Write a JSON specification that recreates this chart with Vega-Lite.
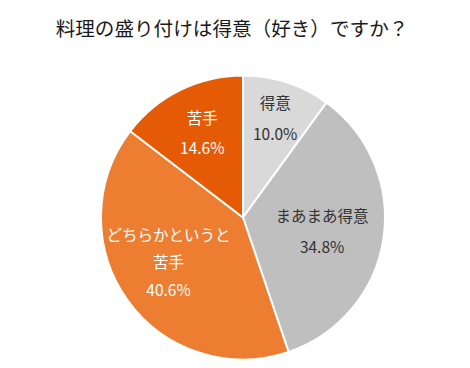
{
  "$schema": "https://vega.github.io/schema/vega-lite/v6.json",
  "width": 470,
  "height": 368,
  "autosize": {"type": "fit", "contains": "padding"},
  "padding": {"top": 20, "left": 16, "right": 0, "bottom": 0},
  "background": "white",
  "title": {
    "text": "料理の盛り付けは得意（好き）ですか？",
    "font": "Noto Sans CJK JP",
    "fontSize": 19.6,
    "fontWeight": "normal",
    "color": "#1a1a1a",
    "anchor": "middle",
    "offset": 26,
    "dx": -11
  },
  "config": {"view": {"stroke": null}},
  "data": {
    "values": [
      {"cat": "得意", "value": 10.0, "ord": 1, "label": "得意\n10.0%"},
      {"cat": "まあまあ得意", "value": 34.8, "ord": 2, "label": "まあまあ得意\n34.8%"},
      {"cat": "どちらかというと苦手", "value": 40.6, "ord": 3, "label": "どちらかというと\n苦手\n40.6%"},
      {"cat": "苦手", "value": 14.6, "ord": 4, "label": "苦手\n14.6%"}
    ]
  },
  "encoding": {
    "theta": {"field": "value", "type": "quantitative", "stack": true},
    "order": {"field": "ord", "type": "quantitative"}
  },
  "layer": [
    {
      "mark": {"type": "arc", "outerRadius": 142, "stroke": "white", "strokeWidth": 2},
      "encoding": {
        "color": {
          "field": "cat",
          "type": "nominal",
          "scale": {
            "domain": ["得意", "まあまあ得意", "どちらかというと苦手", "苦手"],
            "range": ["#D9D9D9", "#BFBFBF", "#ED7D31", "#E55A05"]
          },
          "legend": null
        }
      }
    },
    {
      "mark": {"type": "text", "radius": 104, "dy": -15, "font": "Noto Sans CJK JP", "fontSize": 15.5, "lineHeight": 31, "lineBreak": "\n", "fill": "#333333", "baseline": "middle", "align": "center"},
      "encoding": {
        "text": {"condition": {"test": "datum.cat === '得意'", "field": "label"}, "value": ""}
      }
    },
    {
      "mark": {"type": "text", "radius": 80, "dy": -13, "font": "Noto Sans CJK JP", "fontSize": 15.5, "lineHeight": 31, "lineBreak": "\n", "fill": "#333333", "baseline": "middle", "align": "center"},
      "encoding": {
        "text": {"condition": {"test": "datum.cat === 'まあまあ得意'", "field": "label"}, "value": ""}
      }
    },
    {
      "mark": {"type": "text", "radius": 88, "dy": -33, "dx": -3, "font": "Noto Sans CJK JP", "fontSize": 15.5, "lineHeight": 27.5, "lineBreak": "\n", "fill": "white", "baseline": "middle", "align": "center"},
      "encoding": {
        "text": {"condition": {"test": "datum.cat === 'どちらかというと苦手'", "field": "label"}, "value": ""}
      }
    },
    {
      "mark": {"type": "text", "radius": 92, "dy": -16, "font": "Noto Sans CJK JP", "fontSize": 15.5, "lineHeight": 30, "lineBreak": "\n", "fill": "white", "baseline": "middle", "align": "center"},
      "encoding": {
        "text": {"condition": {"test": "datum.cat === '苦手'", "field": "label"}, "value": ""}
      }
    }
  ]
}
